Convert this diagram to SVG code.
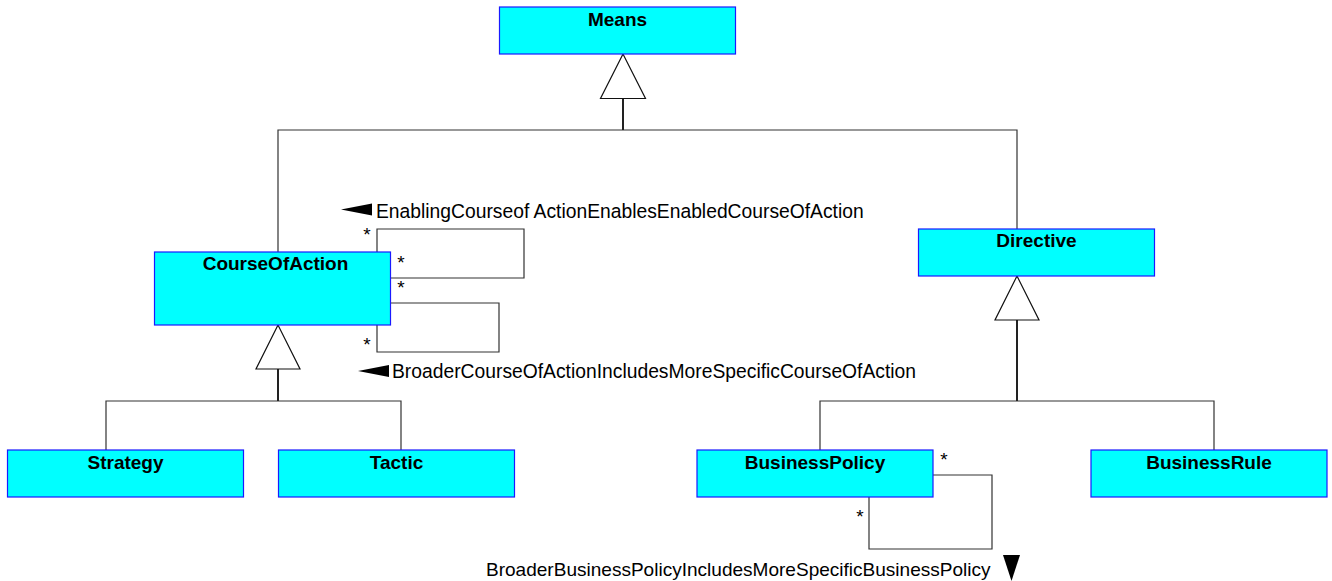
<svg xmlns="http://www.w3.org/2000/svg" width="1332" height="581" viewBox="0 0 1332 581">
<style>
.box{fill:#00ffff;stroke:#1a1aff;stroke-width:1.2}
.nm{font-family:"Liberation Sans",Arial,sans-serif;font-weight:bold;font-size:19px;text-anchor:middle;fill:#000}
.lbl{font-family:"Liberation Sans",Arial,sans-serif;font-size:19.3px;fill:#000}
.mult{font-family:"Liberation Sans",Arial,sans-serif;font-size:19px;text-anchor:middle;fill:#000}
.ln{fill:none;stroke:#333;stroke-width:1.2}
.stem{fill:none;stroke:#222;stroke-width:2}
.tri{fill:#fff;stroke:#111;stroke-width:1.2}
.arr{fill:#000;stroke:none}
</style>
<rect width="1332" height="581" fill="#fff"/>
<g id="connectors">
<polyline class="ln" points="278,252 278,130 1017,130 1017,229"/>
<line class="stem" x1="623" y1="98.5" x2="623" y2="130"/>
<polygon class="tri" points="623,54 600.5,98.5 645.5,98.5"/>
<polyline class="ln" points="106,450 106,401 401,401 401,450"/>
<line class="stem" x1="278" y1="369" x2="278" y2="401"/>
<polygon class="tri" points="278,325 256,369 300,369"/>
<polyline class="ln" points="820,450 820,401 1214,401 1214,450"/>
<line class="stem" x1="1017" y1="320" x2="1017" y2="401"/>
<polygon class="tri" points="1017,276 995,320 1039,320"/>
<polyline class="ln" points="377,252 377,229 524,229 524,278 391,278"/>
<polyline class="ln" points="391,303 499,303 499,352 377,352 377,325"/>
<polyline class="ln" points="933,475 992,475 992,549 869,549 869,497"/>
<polygon class="arr" points="341,209.5 372,203.5 372,215.5"/>
<polygon class="arr" points="358,371 389,365 389,377"/>
<polygon class="arr" points="1003,555 1020,555 1011.5,581"/>
<text class="lbl" x="376" y="218">EnablingCourseof ActionEnablesEnabledCourseOfAction</text>
<text class="lbl" x="392" y="378">BroaderCourseOfActionIncludesMoreSpecificCourseOfAction</text>
<text class="lbl" x="486" y="576" style="font-size:19.05px">BroaderBusinessPolicyIncludesMoreSpecificBusinessPolicy</text>
<text class="mult" x="367" y="241">*</text>
<text class="mult" x="401" y="269">*</text>
<text class="mult" x="401" y="294">*</text>
<text class="mult" x="367" y="351">*</text>
<text class="mult" x="944" y="466">*</text>
<text class="mult" x="860" y="523">*</text>
</g>
<g id="Means"><rect class="box" x="499.5" y="7" width="236" height="47"/><text class="nm" x="617.5" y="26">Means</text></g>
<g id="CourseOfAction"><rect class="box" x="154.5" y="252" width="236" height="73"/><text class="nm" x="275.5" y="270">CourseOfAction</text></g>
<g id="Directive"><rect class="box" x="918.5" y="229" width="236" height="47"/><text class="nm" x="1036.5" y="247">Directive</text></g>
<g id="Strategy"><rect class="box" x="7.5" y="450" width="236" height="47"/><text class="nm" x="125.5" y="468.5">Strategy</text></g>
<g id="Tactic"><rect class="box" x="278.5" y="450" width="236" height="47"/><text class="nm" x="396.5" y="468.5">Tactic</text></g>
<g id="BusinessPolicy"><rect class="box" x="697" y="450" width="236" height="47"/><text class="nm" x="815" y="468.5">BusinessPolicy</text></g>
<g id="BusinessRule"><rect class="box" x="1091" y="450" width="236" height="47"/><text class="nm" x="1209" y="468.5">BusinessRule</text></g>
</svg>
